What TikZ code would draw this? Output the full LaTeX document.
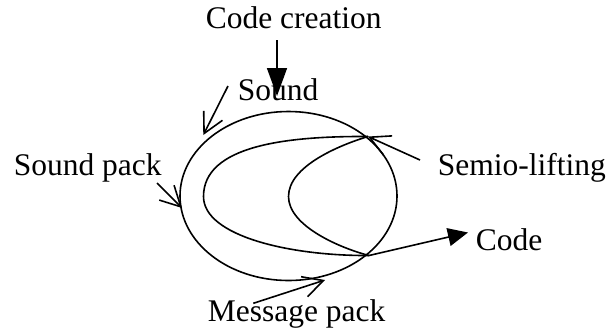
\documentclass[tikz,border=0pt]{standalone}
\usepackage{fontspec}
\setmainfont{Liberation Serif}
\usetikzlibrary{arrows.meta}
\begin{document}
\begin{tikzpicture}[x=1pt,y=-1pt,
  line width=1.6pt,
  lbl/.style={anchor=base west,inner sep=0pt,font=\fontsize{31.5}{36}\selectfont},
  barb/.style={-{Straight Barb[length=20pt,width=21pt,line width=1.6pt]}},
]
\useasboundingbox (0,0) rectangle (609,333);

% labels
\node[lbl] (cc)   at (205,28)  {Code creation};
\node[lbl] (snd)  at (237,100) {Sound};
\node[lbl] (sp)   at (13,175)  {Sound pack};
\node[lbl] (sl)   at (437,175) {Semio-lifting};
\node[lbl] (code) at (475,250) {Code};
\node[lbl] (mp)   at (207,321) {Message pack};

% outer ellipse
\coordinate (ctr) at (288.5,196);
\draw (ctr) ellipse [x radius=108.5, y radius=84.5];

% meeting points of the two curves with the ellipse
\coordinate (top) at (368,136.5);
\coordinate (bot) at (369,255.5);
\coordinate (apexA) at (203.5,196.5);
\coordinate (apexB) at (288.5,196.5);

% outer curve
\draw (top) .. controls (285,136) and (203.5,146) .. (apexA)
            .. controls (203.5,236) and (290,256) .. (bot);
% inner curve
\draw (top) .. controls (340,145) and (288.5,166) .. (apexB)
            .. controls (288.5,226) and (340,248) .. (bot);

% arrow ends
\coordinate (ccTail) at (277,40);
\coordinate (ccTip)  at (277,96);
\coordinate (sndTail) at (228,86);
\coordinate (sndTip)  at (203.3,135);
\coordinate (spTail) at (157,183);
\coordinate (spTip)  at (182,208);
\coordinate (slTail) at (420,160);
\coordinate (mpTail) at (253.3,303.3);
\coordinate (mpTip)  at (325,280);
\coordinate (codeTip) at (468,232.5);

% connectors
\draw[-{Triangle[length=28pt,width=20pt]}] (ccTail) -- (ccTip);
\draw[barb] (sndTail) -- (sndTip);
\draw[barb] (spTail) -- (spTip);
\draw[barb] (slTail) -- (top);
\draw[barb] (mpTail) -- (mpTip);
\draw[-{Triangle[length=20pt,width=18pt]}] (bot) -- (codeTip);
\end{tikzpicture}
\end{document}
